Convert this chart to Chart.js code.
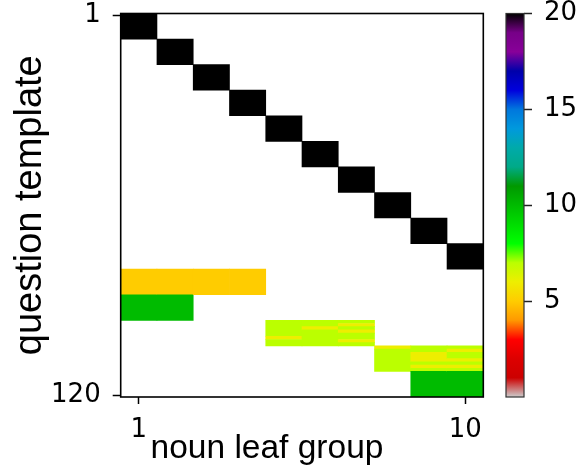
<!DOCTYPE html>
<html>
<head>
<meta charset="utf-8">
<script src="https://cdn.jsdelivr.net/npm/chart.js@4/dist/chart.umd.min.js"></script>
<style>
  html, body { margin: 0; padding: 0; background: #fff; }
  #wrap { position: relative; width: 585px; height: 468px; }
  #wrap canvas { position: absolute; left: 0; top: 0; }
</style>
</head>
<body>
<div id="wrap">
  <canvas id="heat" width="585" height="468"></canvas>
  <canvas id="cbar" width="585" height="468"></canvas>
</div>
<script>
// ---------- data ----------
const nounLeafGroups = [1, 2, 3, 4, 5, 6, 7, 8, 9, 10];   // x categories
const questionTemplateCount = 120;                          // y rows
const rowsPerBlock = 8;
const xTickValues = [1, 10];
const yTickValues = [1, 120];
const colorbarTicks = [5, 10, 15, 20];
const colorMin = 0;
const colorMax = 20;

// values per block of 8 question templates (columns = noun leaf groups 1..10)
const blockValues = [
  [20, 0, 0, 0, 0, 0, 0, 0, 0, 0],
  [0, 20, 0, 0, 0, 0, 0, 0, 0, 0],
  [0, 0, 20, 0, 0, 0, 0, 0, 0, 0],
  [0, 0, 0, 20, 0, 0, 0, 0, 0, 0],
  [0, 0, 0, 0, 20, 0, 0, 0, 0, 0],
  [0, 0, 0, 0, 0, 20, 0, 0, 0, 0],
  [0, 0, 0, 0, 0, 0, 20, 0, 0, 0],
  [0, 0, 0, 0, 0, 0, 0, 20, 0, 0],
  [0, 0, 0, 0, 0, 0, 0, 0, 20, 0],
  [0, 0, 0, 0, 0, 0, 0, 0, 0, 20],
  [5, 5, 5, 5, 0, 0, 0, 0, 0, 0],
  [10, 10, 0, 0, 0, 0, 0, 0, 0, 0],
  [0, 0, 0, 0, 7, 7, 7, 0, 0, 0],
  [0, 0, 0, 0, 0, 0, 0, 7, 7, 7],
  [0, 0, 0, 0, 0, 0, 0, 0, 10, 10]
];
// single-row cells that differ from their block: [question template, noun leaf group, value]
const stripeCells = [
  [102, 5, 6], [99, 6, 6], [98, 7, 6], [100, 7, 6], [103, 7, 6],
  [105, 8, 6], [107, 9, 6], [108, 9, 6], [109, 9, 6], [111, 9, 6],
  [106, 10, 6], [109, 10, 6], [111, 10, 6]
];

// ---------- nipy_spectral colormap (reversed) ----------
const NS_R = [0,0.4667,0.5333,0,0,0,0,0,0,0,0,0,0,0.7333,0.9333,1,1,1,0.8667,0.8,0.8];
const NS_G = [0,0,0,0,0,0.4667,0.6,0.6667,0.6667,0.6,0.7333,0.8667,1,1,0.9333,0.8,0.6,0,0,0,0.8];
const NS_B = [0,0.5333,0.6,0.6667,0.8667,0.8667,0.8667,0.6667,0.5333,0,0,0,0,0,0,0,0,0,0,0,0.8];
function nipy(t) {
  t = Math.max(0, Math.min(1, t));
  const f = t * 20, i = Math.min(19, Math.floor(f)), w = f - i;
  const c = a => Math.round(255 * (a[i] + (a[i + 1] - a[i]) * w));
  return `rgb(${c(NS_R)},${c(NS_G)},${c(NS_B)})`;
}
function cmap(v) { return nipy(1 - (v - colorMin) / (colorMax - colorMin)); }

// ---------- build matrix and vertical runs ----------
const matrix = [];
for (let r = 1; r <= questionTemplateCount; r++) {
  matrix.push(blockValues[Math.floor((r - 1) / rowsPerBlock)].slice());
}
stripeCells.forEach(([r, c, v]) => { matrix[r - 1][c - 1] = v; });

const cells = [];
nounLeafGroups.forEach((g, ci) => {
  let start = 1;
  for (let r = 2; r <= questionTemplateCount + 1; r++) {
    const prev = matrix[r - 2][ci];
    const cur = r <= questionTemplateCount ? matrix[r - 1][ci] : null;
    if (cur !== prev) {
      if (prev > 0) cells.push({ x: String(g), y: [start - 0.5, r - 1 + 0.5], v: prev });
      start = r;
    }
  }
});

// ---------- frame plugin ----------
const frame = (color, width) => ({
  id: 'frame',
  afterDraw(chart) {
    const a = chart.chartArea, ctx = chart.ctx;
    ctx.save();
    ctx.strokeStyle = color; ctx.lineWidth = width;
    ctx.strokeRect(a.left, a.top, a.right - a.left, a.bottom - a.top);
    ctx.restore();
  }
});

const tickFont = { family: 'DejaVu Sans', size: 26 };
const titleFontFamily = 'Liberation Sans, Arial, sans-serif';
const PLOT_L = 120.7, PLOT_R = 483.3, PLOT_T = 13.5, PLOT_B = 397;
const TITLE_RIGHT_PAD = 51;
const X_TITLE_BOX = 26;

new Chart(document.getElementById('heat'), {
  type: 'bar',
  data: {
    labels: nounLeafGroups.map(String),
    datasets: [{
      data: cells,
      backgroundColor: ctx => ctx.raw ? cmap(ctx.raw.v) : 'transparent',
      borderWidth: 0,
      barPercentage: 1,
      categoryPercentage: 1
    }]
  },
  options: {
    responsive: false,
    animation: false,
    devicePixelRatio: 1,
    layout: { padding: { left: 0, right: TITLE_RIGHT_PAD, top: PLOT_T, bottom: 0 } },
    plugins: {
      legend: { display: false },
      tooltip: { enabled: false },
      title: {
        display: true, position: 'bottom', text: 'noun leaf group', color: '#000',
        font: { family: titleFontFamily, size: 33.5, weight: 'normal', lineHeight: '14px' },
        padding: { top: 0, bottom: X_TITLE_BOX - 14 }
      }
    },
    scales: {
      x: {
        type: 'category', offset: true,
        afterFit: s => { s.height = 468 - PLOT_B - X_TITLE_BOX; s.paddingLeft = 0; s.paddingRight = 0; },
        grid: {
          offset: false, drawOnChartArea: false, drawTicks: true, tickLength: 7, tickWidth: 1.5,
          tickColor: c => xTickValues.includes(c.index + 1) ? '#000' : 'rgba(0,0,0,0)'
        },
        border: { display: false },
        ticks: {
          font: tickFont, color: '#000', padding: 11, maxRotation: 0, autoSkip: false,
          callback: (v, i) => xTickValues.includes(nounLeafGroups[i]) ? String(nounLeafGroups[i]) : ''
        }
      },
      y: {
        type: 'linear', reverse: true, min: 0.5, max: questionTemplateCount + 0.5,
        afterBuildTicks: s => { s.ticks = yTickValues.map(v => ({ value: v })); },
        afterFit: s => { s.width = PLOT_L; s.paddingTop = 0; s.paddingBottom = 0; },
        grid: { drawOnChartArea: false, drawTicks: true, tickLength: 8, tickColor: '#000', tickWidth: 1.5 },
        border: { display: false },
        ticks: { font: tickFont, color: '#000', padding: 12, autoSkip: false },
        title: { display: true, text: 'question template', color: '#000',
                 font: { family: titleFontFamily, size: 38 }, padding: { top: 8, bottom: 0 } }
      },
      ySpacer: {
        type: 'linear', position: 'right', display: true,
        afterFit: s => { s.width = 585 - TITLE_RIGHT_PAD - PLOT_R; s.paddingTop = 0; s.paddingBottom = 0; },
        grid: { display: false }, border: { display: false }, ticks: { display: false }
      }
    }
  },
  plugins: [frame('#000', 1.6)]
});

// ---------- colorbar ----------
const CB_L = 506, CB_R = 524;
new Chart(document.getElementById('cbar'), {
  type: 'bar',
  data: {
    labels: [''],
    datasets: [{
      data: [[colorMin, colorMax]],
      backgroundColor: ctx => {
        const a = ctx.chart.chartArea;
        if (!a) return '#ccc';
        const g = ctx.chart.ctx.createLinearGradient(0, a.bottom, 0, a.top);
        for (let i = 0; i <= 40; i++) {
          const p = i / 40;
          g.addColorStop(p, cmap(colorMin + p * (colorMax - colorMin)));
        }
        return g;
      },
      borderWidth: 0,
      barPercentage: 1,
      categoryPercentage: 1
    }]
  },
  options: {
    responsive: false,
    animation: false,
    devicePixelRatio: 1,
    layout: { padding: { left: CB_L, right: 0, top: PLOT_T, bottom: 468 - PLOT_B } },
    plugins: { legend: { display: false }, tooltip: { enabled: false } },
    scales: {
      x: { display: false },
      y: {
        position: 'right', min: colorMin, max: colorMax,
        afterBuildTicks: s => { s.ticks = colorbarTicks.map(v => ({ value: v })); },
        afterFit: s => { s.width = 585 - CB_R; s.paddingTop = 0; s.paddingBottom = 0; },
        grid: { drawOnChartArea: false, drawTicks: true, tickLength: 8, tickColor: '#222', tickWidth: 1.5 },
        border: { display: false },
        ticks: { font: tickFont, color: '#000', padding: 12, autoSkip: false }
      }
    }
  },
  plugins: [frame('#333', 1.2)]
});
</script>
</body>
</html>
